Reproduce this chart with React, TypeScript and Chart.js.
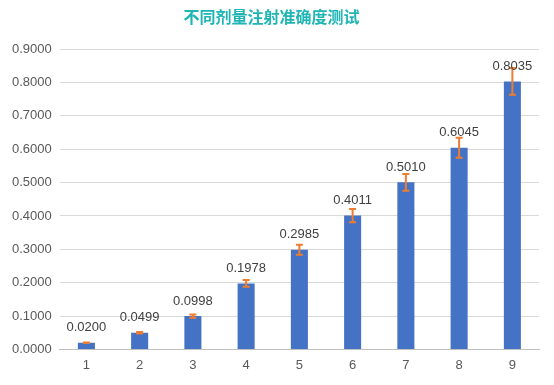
import React, { useEffect, useRef } from "react";
import { Chart, registerables } from "chart.js";

Chart.register(...registerables);

const categories = ["1", "2", "3", "4", "5", "6", "7", "8", "9"];
const values = [0.02, 0.0499, 0.0998, 0.1978, 0.2985, 0.4011, 0.501, 0.6045, 0.8035];
const errors = [0.001, 0.0025, 0.005, 0.0099, 0.0149, 0.02, 0.025, 0.03, 0.04];
const valueLabels = ["0.0200", "0.0499", "0.0998", "0.1978", "0.2985", "0.4011", "0.5010", "0.6045", "0.8035"];
const title = "不同剂量注射准确度测试";

const errorBarPlugin = {
  id: "errorBars",
  afterDatasetsDraw(chart: any) {
    const ctx = chart.ctx;
    const meta = chart.getDatasetMeta(0);
    const y = chart.scales.y;
    ctx.save();
    ctx.strokeStyle = "#ED7D31";
    ctx.lineWidth = 2;
    meta.data.forEach((bar: any, i: number) => {
      const x = bar.x;
      const top = y.getPixelForValue(values[i] + errors[i]);
      const bot = y.getPixelForValue(values[i] - errors[i]);
      ctx.beginPath();
      ctx.moveTo(x, top);
      ctx.lineTo(x, bot);
      ctx.moveTo(x - 3.5, top);
      ctx.lineTo(x + 3.5, top);
      ctx.moveTo(x - 3.5, bot);
      ctx.lineTo(x + 3.5, bot);
      ctx.stroke();
    });
    ctx.fillStyle = "#404040";
    ctx.font = "13px 'Liberation Sans', Arial, sans-serif";
    ctx.textAlign = "center";
    ctx.textBaseline = "middle";
    meta.data.forEach((bar: any, i: number) => {
      ctx.fillText(valueLabels[i], bar.x, bar.y - 15);
    });
    ctx.restore();
  },
};

export default function App() {
  const ref = useRef<HTMLCanvasElement>(null);
  useEffect(() => {
    if (!ref.current) return;
    const chart = new Chart(ref.current, {
      type: "bar",
      data: {
        labels: categories,
        datasets: [
          {
            data: values,
            backgroundColor: "#4472C4",
            categoryPercentage: 1,
            barPercentage: 0.32,
          },
        ],
      },
      options: {
        animation: false,
        responsive: false,
        layout: { padding: { left: 4, right: 15, top: 0, bottom: 4 } },
        plugins: {
          legend: { display: false },
          tooltip: { enabled: false },
          title: {
            display: true,
            text: title,
            color: "#1FB5B5",
            font: { size: 16, weight: "bold", family: "'Noto Sans CJK SC', sans-serif" },
            padding: { top: 7, bottom: 23 },
          },
        },
        scales: {
          x: {
            grid: { display: false, drawTicks: false },
            border: { color: "#BFBFBF" },
            ticks: { color: "#595959", font: { size: 13, family: "'Liberation Sans', Arial, sans-serif" }, padding: 8 },
          },
          y: {
            min: 0,
            max: 0.9,
            grid: { color: "#D9D9D9", drawTicks: false },
            border: { display: false },
            ticks: {
              stepSize: 0.1,
              color: "#595959",
              padding: 8,
              font: { size: 13, family: "'Liberation Sans', Arial, sans-serif" },
              callback: (v: any) => Number(v).toFixed(4),
            },
          },
        },
      },
      plugins: [errorBarPlugin],
    });
    return () => chart.destroy();
  }, []);
  return (
    <div style={{ position: "fixed", left: 0, top: 0, width: 554, height: 385, background: "#fff" }}>
      <canvas ref={ref} width={554} height={385} />
    </div>
  );
}
